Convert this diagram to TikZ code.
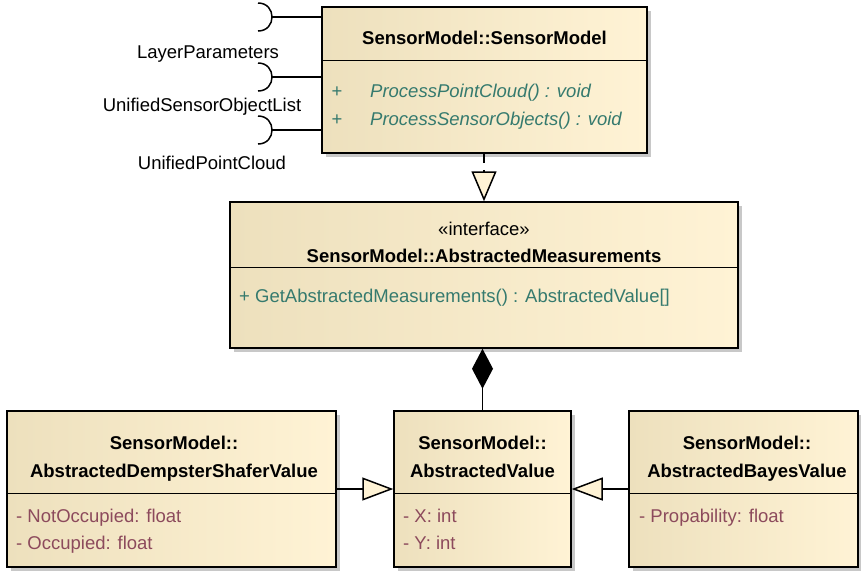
\documentclass[tikz,border=0pt]{standalone}
\usepackage{fontspec}
\setmainfont{Liberation Sans}
\usetikzlibrary{arrows.meta,shadows,calc}
\definecolor{fillL}{HTML}{EDE0BD}
\definecolor{fillR}{HTML}{FFF3D5}
\definecolor{shadowgray}{HTML}{C8C8C8}
\definecolor{opcol}{HTML}{357A6E}
\definecolor{attcol}{HTML}{8C4A5C}
\definecolor{tipfill}{HTML}{FFF3D5}
\begin{document}
\begin{tikzpicture}[x=1pt,y=-1pt,
  umlbox/.style={rectangle, draw=black, line width=1.5pt, left color=fillL, right color=fillR,
    drop shadow={shadow xshift=4pt, shadow yshift=-4pt, fill=shadowgray, opacity=1}, inner sep=0pt},
  txt/.style={inner sep=0pt, text height=13.3pt, text depth=0pt, font=\fontsize{18.5}{22}\selectfont},
  ttl/.style={txt, font=\fontsize{18.5}{22}\selectfont\bfseries},
  op/.style={txt, text=opcol, anchor=west},
  opi/.style={op, font=\fontsize{18.5}{22}\selectfont\itshape},
  att/.style={txt, text=attcol, anchor=west},
  divider/.style={line width=1.5pt},
  conn/.style={line width=1.5pt},
  gen/.style={conn, -{Triangle[length=31pt, width=23pt, fill=tipfill]}},
  real/.style={conn, dash pattern=on 9pt off 7pt, -{Triangle[length=30pt, width=25pt, fill=tipfill]}},
  comp/.style={conn, {Diamond[length=40pt, width=21pt, fill=black]}-},
  socket/.style={line width=1.5pt}
]
\useasboundingbox (0,0) rectangle (861,571);

% boxes
\node[umlbox, minimum width=325pt, minimum height=146pt] (sm) at (484.5,80) {};
\node[umlbox, minimum width=508pt, minimum height=146pt] (am) at (484,275) {};
\node[umlbox, minimum width=177pt, minimum height=156pt] (av) at (482.5,489) {};
\node[umlbox, minimum width=229pt, minimum height=156pt] (bv) at (743.5,489) {};
\node[umlbox, minimum width=329pt, minimum height=156pt] (ds) at (171.5,489) {};

% dividers
\draw[divider] ([yshift=-54pt]sm.north west) -- ([yshift=-54pt]sm.north east);
\draw[divider] ([yshift=-66pt]am.north west) -- ([yshift=-66pt]am.north east);
\draw[divider] ([yshift=-83pt]av.north west) -- ([yshift=-83pt]av.north east);
\draw[divider] ([yshift=-83pt]bv.north west) -- ([yshift=-83pt]bv.north east);
\draw[divider] ([yshift=-83pt]ds.north west) -- ([yshift=-83pt]ds.north east);

% SensorModel texts
\node[ttl] (smt) at (484.5,38) {SensorModel::SensorModel};
\node[txt, text=opcol] (smp1) at (337,91) {+};
\node[opi] (smo1) at (370,91) {ProcessPointCloud() : void};
\node[txt, text=opcol] (smp2) at (337,119) {+};
\node[opi] (smo2) at (370,119) {ProcessSensorObjects() : void};

% AbstractedMeasurements texts
\node[txt] (ams) at (484,229) {«interface»};
\node[ttl] (amt) at (484,256) {SensorModel::AbstractedMeasurements};
\node[op] (amo) at (239,296) {+ GetAbstractedMeasurements() : AbstractedValue[]};

% AbstractedValue texts
\node[ttl] (avt1) at (482.5,443) {SensorModel::};
\node[ttl] (avt2) at (482.5,471) {AbstractedValue};
\node[att] (ava1) at (403,516) {- X: int};
\node[att] (ava2) at (403,543) {- Y: int};

% AbstractedBayesValue texts
\node[ttl] (bvt1) at (747,443) {SensorModel::};
\node[ttl] (bvt2) at (747,471) {AbstractedBayesValue};
\node[att] (bva1) at (639,516) {- Propability: float};

% DempsterShafer texts
\node[ttl] (dst1) at (174,443) {SensorModel::};
\node[ttl] (dst2) at (174,471) {AbstractedDempsterShaferValue};
\node[att] (dsa1) at (16,516) {- NotOccupied: float};
\node[att] (dsa2) at (16,543) {- Occupied: float};

% sockets (required interfaces)
\coordinate (s1) at (258,17);
\coordinate (s2) at (258,77);
\coordinate (s3) at (258,130);
\coordinate (p1) at (272,17);
\coordinate (p2) at (272,77);
\coordinate (p3) at (272,130);
\foreach \s in {s1,s2,s3}{
  \draw[socket] ($(\s)+(0,-14)$) .. controls ($(\s)+(18.7,-14)$) and ($(\s)+(18.7,14)$) .. ($(\s)+(0,14)$);
}
\draw[socket] (p1) -- (p1 -| sm.west);
\draw[socket] (p2) -- (p2 -| sm.west);
\draw[socket] (p3) -- (p3 -| sm.west);
\node[txt] (l1) at (208,52) {LayerParameters};
\node[txt] (l2) at (202,105) {UnifiedSensorObjectList};
\node[txt] (l3) at (212,163) {UnifiedPointCloud};

% connectors
\draw[real] (sm.south -| am.north) -- (am.north);
\draw[comp] (am.south -| av.north) -- (av.north);
\draw[gen] (bv.west) -- (av.east);
\draw[gen] (ds.east) -- (av.west);
\end{tikzpicture}
\end{document}
